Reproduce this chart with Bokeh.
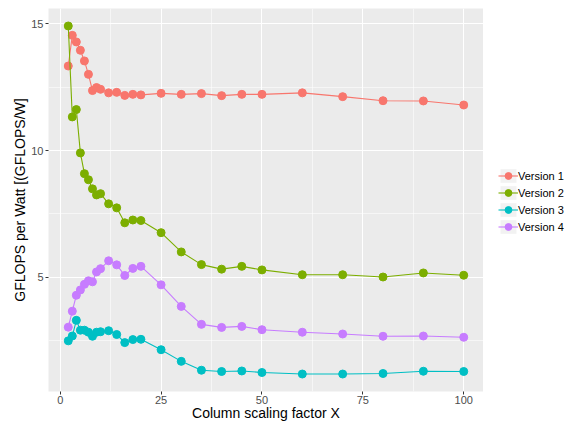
from bokeh.plotting import figure
from bokeh.models import (ColumnDataSource, Range1d, SingleIntervalTicker,
                          Legend, LegendItem)
from bokeh.layouts import row
from bokeh.embed import file_html
from bokeh.resources import INLINE

# Column scaling factor X
scale_x = [2, 3, 4, 5, 6, 7, 8, 9, 10, 12, 14, 16, 18, 20, 25, 30, 35, 40,
           45, 50, 60, 70, 80, 90, 100]

# GFLOPS per Watt for each version
version_1 = [13.34, 14.55, 14.29, 13.96, 13.54, 13.01, 12.37, 12.49, 12.42,
             12.28, 12.30, 12.18, 12.22, 12.20, 12.26, 12.22, 12.25, 12.17,
             12.22, 12.22, 12.28, 12.13, 11.97, 11.96, 11.80]
version_2 = [14.92, 11.33, 11.62, 9.91, 9.09, 8.85, 8.49, 8.25, 8.30,
             7.90, 7.74, 7.15, 7.26, 7.24, 6.76, 6.00, 5.50, 5.32,
             5.43, 5.29, 5.10, 5.10, 5.01, 5.17, 5.08]
version_3 = [2.49, 2.68, 3.30, 2.91, 2.91, 2.83, 2.67, 2.83, 2.85,
             2.89, 2.74, 2.42, 2.54, 2.55, 2.14, 1.68, 1.33, 1.28,
             1.30, 1.24, 1.18, 1.18, 1.20, 1.29, 1.28]
version_4 = [3.03, 3.66, 4.29, 4.50, 4.72, 4.86, 4.82, 5.21, 5.34,
             5.65, 5.49, 5.07, 5.35, 5.43, 4.70, 3.85, 3.14, 3.02,
             3.06, 2.93, 2.83, 2.76, 2.67, 2.68, 2.63]

series_names = ["Version 1", "Version 2", "Version 3", "Version 4"]
series_values = [version_1, version_2, version_3, version_4]
series_colors = ["#F8766D", "#7CAE00", "#00BFC4", "#C77CFF"]

FONT = "Liberation Sans"

# main panel
p = figure(width=483, height=423, output_backend="svg", toolbar_location=None,
           x_range=Range1d(-2.9, 104.9), y_range=Range1d(0.49, 15.61),
           min_border_left=48, min_border_right=0, min_border_top=8,
           min_border_bottom=30)

p.background_fill_color = "#EBEBEB"
p.border_fill_color = "white"
p.outline_line_color = None

p.xaxis.ticker = SingleIntervalTicker(interval=25, num_minor_ticks=2)
p.yaxis.ticker = SingleIntervalTicker(interval=5, num_minor_ticks=2)

for grid in (p.xgrid, p.ygrid):
    grid.grid_line_color = "white"
    grid.grid_line_width = 1.1
    grid.minor_grid_line_color = "white"
    grid.minor_grid_line_width = 0.55

for axis in (p.xaxis, p.yaxis):
    axis.axis_line_color = None
    axis.major_tick_line_color = "#333333"
    axis.major_tick_out = 3
    axis.major_tick_in = 0
    axis.minor_tick_line_color = None
    axis.major_label_text_color = "#4D4D4D"
    axis.major_label_text_font = FONT
    axis.major_label_text_font_size = "11px"
    axis.axis_label_text_font = FONT
    axis.axis_label_text_font_size = "14px"
    axis.axis_label_text_font_style = "normal"
    axis.axis_label_text_color = "black"

p.xaxis.major_label_standoff = 0
p.yaxis.major_label_standoff = 1
p.xaxis.axis_label = "Column scaling factor X"
p.yaxis.axis_label = "GFLOPS per Watt [(GFLOPS/W]"
p.xaxis.axis_label_standoff = -2
p.yaxis.axis_label_standoff = 0

data = {"x": scale_x}
for name, vals in zip(series_names, series_values):
    data[name] = vals
source = ColumnDataSource(data)

for name, color in zip(series_names, series_colors):
    p.line("x", name, source=source, line_color=color, line_width=1.1)
    p.scatter("x", name, source=source, size=8, fill_color=color,
              line_color=color)

# legend strip to the right of the panel; its own ranges keep the
# series glyphs out of view so only the legend keys show
leg = figure(width=90, height=423, output_backend="svg", toolbar_location=None,
             x_axis_type=None, y_axis_type=None, min_border=0,
             x_range=Range1d(-1000, -999), y_range=Range1d(-1000, -999))
leg.xgrid.visible = False
leg.ygrid.visible = False
leg.outline_line_color = None
leg.background_fill_color = "white"
leg.border_fill_color = "white"

key_bg = leg.quad(left="x", right="x", top=series_names[0],
                  bottom=series_names[0], source=source,
                  fill_color="#F2F2F2", line_color=None)

items = []
for name, color in zip(series_names, series_colors):
    ln = leg.line("x", name, source=source, line_color=color, line_width=1.1)
    sc = leg.scatter("x", name, source=source, size=8, fill_color=color,
                     line_color=color)
    items.append(LegendItem(label=name, renderers=[key_bg, ln, sc]))

legend = Legend(items=items, location=(15, 156), orientation="vertical",
                glyph_width=20, glyph_height=17, spacing=0, padding=0,
                margin=0, label_standoff=0, label_height=17,
                label_text_font=FONT, label_text_font_size="11px",
                label_text_color="black", background_fill_alpha=0,
                border_line_color=None)
leg.add_layout(legend, "center")

layout = row(p, leg)
open("out.html", "w").write(file_html(layout, INLINE))
